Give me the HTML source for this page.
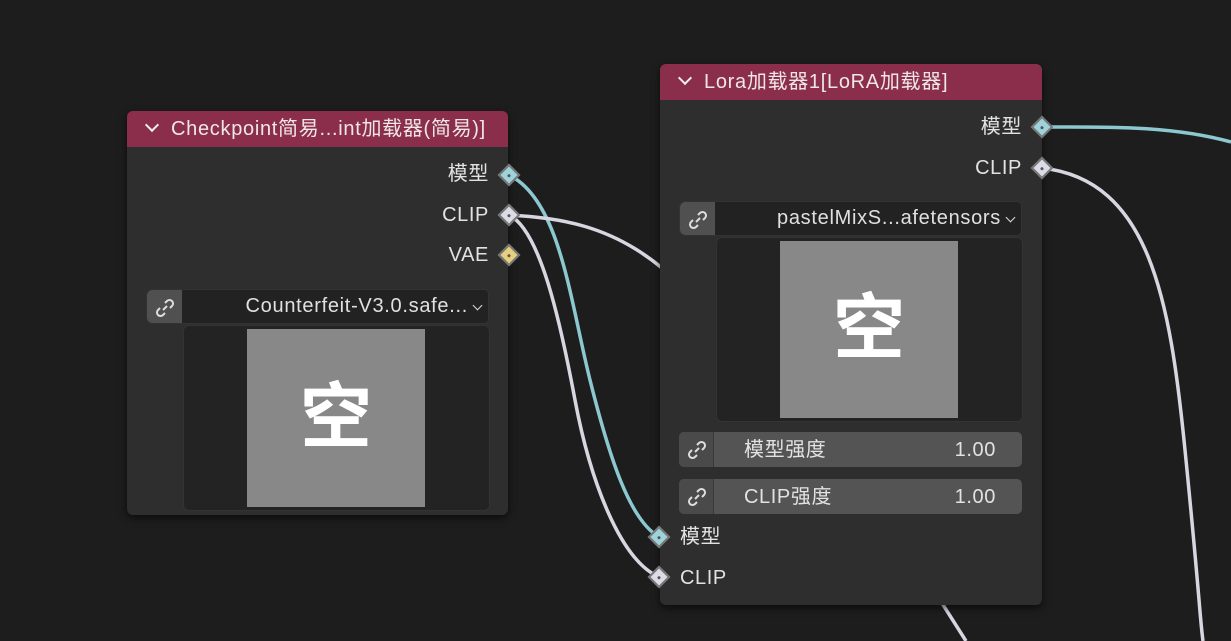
<!DOCTYPE html>
<html><head><meta charset="utf-8"><style>
*{margin:0;padding:0;box-sizing:border-box}
body{width:1231px;height:641px;background:#1d1d1d;position:relative;overflow:hidden;font-family:"Liberation Sans","Noto Sans CJK SC",sans-serif;color:#e6e6e6}
.node{position:absolute;background:#2e2e2e;border-radius:6px;box-shadow:0 3px 8px rgba(0,0,0,.6);overflow:hidden}
.hdr{position:absolute;left:0;right:0;top:0;background:#8b2e4c;color:#f0e6ea;font-size:20px;letter-spacing:0.7px;line-height:36px;padding-left:20px;white-space:nowrap}
.hdr .chev{display:inline-block;width:10px;height:10px;border-right:2px solid #eee;border-bottom:2px solid #eee;transform:rotate(45deg);margin:0 14px 5px 0}
.lbl{position:absolute;font-size:20px;letter-spacing:0.6px;line-height:24px;white-space:nowrap;color:#e2e2e2}
.sock{position:absolute;width:16px;height:16px;transform:rotate(45deg);border:2px solid #777;z-index:5}
.sock::after{content:"";position:absolute;left:5px;top:5px;width:3px;height:3px;background:#555;border-radius:50%}
.combo{position:absolute;background:#222;border:1px solid #333;border-radius:5px;height:35px}
.link{position:absolute;left:0;top:0;bottom:0;width:35px;background:#505050;border-radius:5px 0 0 5px}
.link svg{position:absolute;left:6px;top:6px}
.ctext{position:absolute;right:20px;top:0;line-height:33px;font-size:20px;letter-spacing:0.7px;color:#e0e0e0;white-space:nowrap}
.dd{position:absolute;right:7px;top:12px;width:7px;height:7px;border-right:1.5px solid #ddd;border-bottom:1.5px solid #ddd;transform:rotate(45deg)}
.prev{position:absolute;background:#232323;border:1px solid #333;border-radius:6px}
.img{position:absolute;background:#888;color:#fff;font-weight:bold;font-size:72px;text-align:center}
.slider{position:absolute;background:#545454;border-radius:5px;height:35px}
.slider .link{background:#4a4a4a;border-right:1px solid #3a3a3a}
</style></head><body>
<svg width="1231" height="641" style="position:absolute;left:0;top:0">
<g fill="none" stroke-width="3.5">
<path d="M509 175 C560 200,570 300,590 380 S630 520,659 537" stroke="#8cc8d0"/>
<path d="M509 215 C540 230,560 320,575 400 S620 560,659 577" stroke="#d8d6e0"/>
<path d="M509 215 C560 218,610 225,662 268" stroke="#d8d6e0"/>
<path d="M1042 127 C1100 127,1170 125,1231 142" stroke="#8cc8d0"/>
<path d="M1042 168 C1150 180,1170 300,1185 450 S1200 620,1203 641" stroke="#d8d6e0"/>
<path d="M940 600 L966 641" stroke="#d8d6e0"/>
</g></svg>

<div class="node" style="left:127px;top:111px;width:381px;height:404px">
<div class="hdr"><span class="chev"></span>Checkpoint简易...int加载器(简易)]</div>
<div class="lbl" style="right:19px;top:51px">模型</div>
<div class="lbl" style="right:19px;top:92px">CLIP</div>
<div class="lbl" style="right:19px;top:132px">VAE</div>
<div class="combo" style="left:19px;top:178px;width:343px"><div class="link"><svg width="24" height="24" viewBox="0 0 24 24" fill="none" stroke="#ddd" stroke-width="2"><path d="M10 14 l4 -4"/><path d="M12 7 l2-2 a3.5 3.5 0 0 1 5 5 l-2 2"/><path d="M12 17 l-2 2 a3.5 3.5 0 0 1 -5 -5 l2 -2"/></svg></div><div class="ctext">Counterfeit-V3.0.safe...</div><div class="dd"></div></div>
<div class="prev" style="left:56px;top:214px;width:307px;height:186px"></div>
<div class="img" style="left:120px;top:218px;width:178px;height:178px;line-height:178px">空</div>
</div>
<div class="sock" style="left:501px;top:167px;background:#9ed3dc"></div>
<div class="sock" style="left:501px;top:207px;background:#dcdce6"></div>
<div class="sock" style="left:501px;top:247px;background:#e6cf7d"></div>

<div class="node" style="left:660px;top:64px;width:382px;height:541px">
<div class="hdr"><span class="chev"></span>Lora加载器1[LoRA加载器]</div>
<div class="lbl" style="right:20px;top:51px">模型</div>
<div class="lbl" style="right:20px;top:92px">CLIP</div>
<div class="combo" style="left:19px;top:137px;width:343px"><div class="link"><svg width="24" height="24" viewBox="0 0 24 24" fill="none" stroke="#ddd" stroke-width="2"><path d="M10 14 l4 -4"/><path d="M12 7 l2-2 a3.5 3.5 0 0 1 5 5 l-2 2"/><path d="M12 17 l-2 2 a3.5 3.5 0 0 1 -5 -5 l2 -2"/></svg></div><div class="ctext">pastelMixS...afetensors</div><div class="dd"></div></div>
<div class="prev" style="left:56px;top:173px;width:307px;height:185px"></div>
<div class="img" style="left:120px;top:177px;width:178px;height:177px;line-height:177px">空</div>
<div class="slider" style="left:19px;top:368px;width:343px"><div class="link"><svg width="24" height="24" viewBox="0 0 24 24" fill="none" stroke="#ddd" stroke-width="2"><path d="M10 14 l4 -4"/><path d="M12 7 l2-2 a3.5 3.5 0 0 1 5 5 l-2 2"/><path d="M12 17 l-2 2 a3.5 3.5 0 0 1 -5 -5 l2 -2"/></svg></div><div class="lbl" style="left:65px;top:6px">模型强度</div><div class="lbl" style="right:26px;top:6px">1.00</div></div>
<div class="slider" style="left:19px;top:415px;width:343px"><div class="link"><svg width="24" height="24" viewBox="0 0 24 24" fill="none" stroke="#ddd" stroke-width="2"><path d="M10 14 l4 -4"/><path d="M12 7 l2-2 a3.5 3.5 0 0 1 5 5 l-2 2"/><path d="M12 17 l-2 2 a3.5 3.5 0 0 1 -5 -5 l2 -2"/></svg></div><div class="lbl" style="left:65px;top:6px">CLIP强度</div><div class="lbl" style="right:26px;top:6px">1.00</div></div>
<div class="lbl" style="left:20px;top:461px">模型</div>
<div class="lbl" style="left:20px;top:502px">CLIP</div>
</div>
<div class="sock" style="left:1034px;top:119px;background:#9ed3dc"></div>
<div class="sock" style="left:1034px;top:160px;background:#dcdce6"></div>
<div class="sock" style="left:651px;top:529px;background:#9ed3dc"></div>
<div class="sock" style="left:651px;top:569px;background:#dcdce6"></div>
</body></html>
